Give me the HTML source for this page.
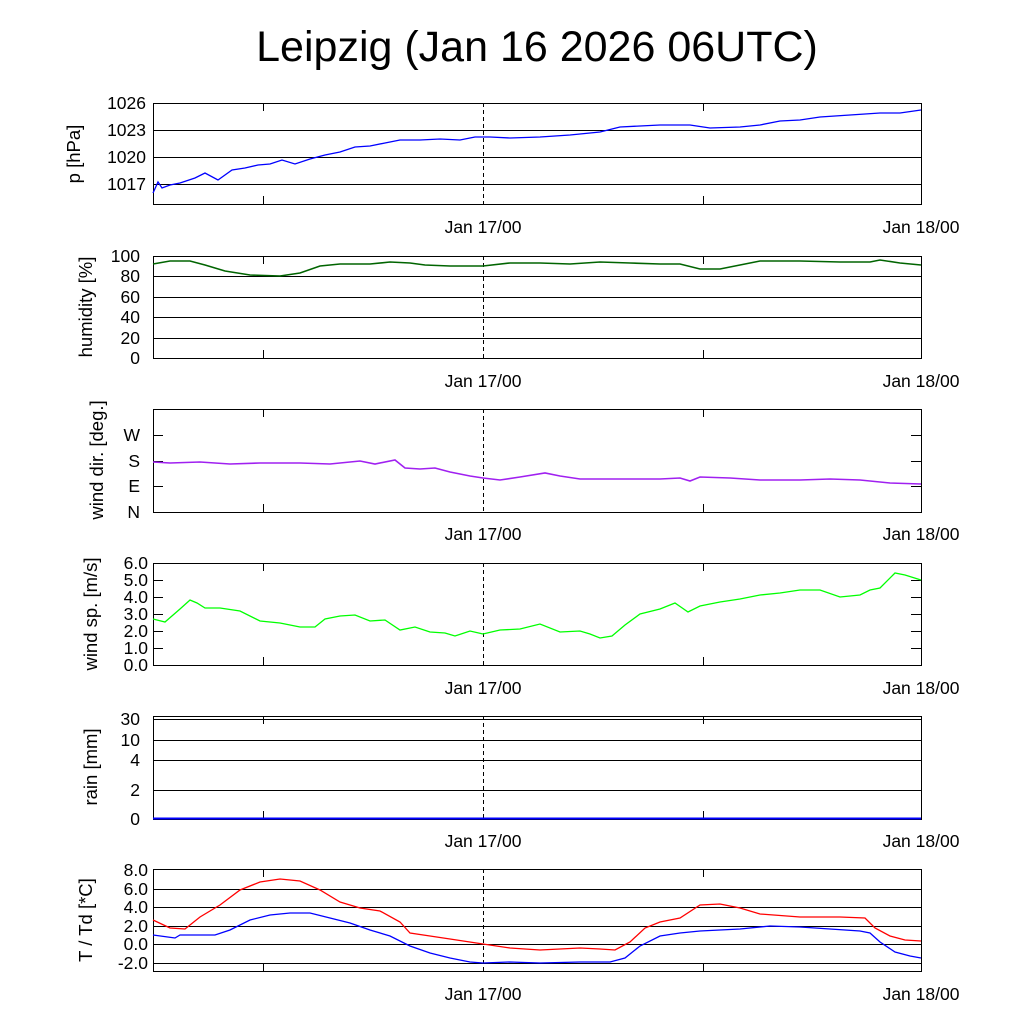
<!DOCTYPE html>
<html><head><meta charset="utf-8"><style>html,body{margin:0;padding:0;background:#fff}</style></head>
<body>
<svg width="1024" height="1024" xmlns="http://www.w3.org/2000/svg" font-family="Liberation Sans, sans-serif">
<rect width="1024" height="1024" fill="#fff"/>
<text x="537" y="61" font-size="43" text-anchor="middle">Leipzig (Jan 16 2026 06UTC)</text>
<g stroke="#000" stroke-width="1" fill="none">
<rect x="153.5" y="103.5" width="768" height="101"/>
<line x1="153" y1="130.5" x2="921" y2="130.5"/><line x1="153" y1="157.5" x2="921" y2="157.5"/><line x1="153" y1="184.5" x2="921" y2="184.5"/>
<rect x="153.5" y="256.5" width="768" height="102"/>
<line x1="153" y1="276.5" x2="921" y2="276.5"/><line x1="153" y1="297.5" x2="921" y2="297.5"/><line x1="153" y1="317.5" x2="921" y2="317.5"/><line x1="153" y1="338.5" x2="921" y2="338.5"/>
<rect x="153.5" y="409.5" width="768" height="103"/>
<line x1="153" y1="435.5" x2="163" y2="435.5"/><line x1="911" y1="435.5" x2="921" y2="435.5"/>
<line x1="153" y1="461.5" x2="163" y2="461.5"/><line x1="911" y1="461.5" x2="921" y2="461.5"/>
<line x1="153" y1="486.5" x2="163" y2="486.5"/><line x1="911" y1="486.5" x2="921" y2="486.5"/>
<rect x="153.5" y="563.5" width="768" height="102"/>
<line x1="153" y1="580.5" x2="163" y2="580.5"/><line x1="911" y1="580.5" x2="921" y2="580.5"/>
<line x1="153" y1="597.5" x2="163" y2="597.5"/><line x1="911" y1="597.5" x2="921" y2="597.5"/>
<line x1="153" y1="614.5" x2="163" y2="614.5"/><line x1="911" y1="614.5" x2="921" y2="614.5"/>
<line x1="153" y1="631.5" x2="163" y2="631.5"/><line x1="911" y1="631.5" x2="921" y2="631.5"/>
<line x1="153" y1="648.5" x2="163" y2="648.5"/><line x1="911" y1="648.5" x2="921" y2="648.5"/>
<rect x="153.5" y="716.5" width="768" height="103"/>
<line x1="153" y1="719.5" x2="921" y2="719.5"/><line x1="153" y1="740.5" x2="921" y2="740.5"/><line x1="153" y1="760.5" x2="921" y2="760.5"/><line x1="153" y1="790.5" x2="921" y2="790.5"/>
<rect x="153.5" y="869.5" width="768" height="102"/>
<line x1="153" y1="889.5" x2="921" y2="889.5"/><line x1="153" y1="907.5" x2="921" y2="907.5"/><line x1="153" y1="926.5" x2="921" y2="926.5"/><line x1="153" y1="944.5" x2="921" y2="944.5"/><line x1="153" y1="963.5" x2="921" y2="963.5"/>
<g>
<path d="M263.5 204v-8M703.5 204v-8M263.5 103v8M703.5 103v8"/>
<path d="M263.5 358v-8M703.5 358v-8M263.5 256v8M703.5 256v8"/>
<path d="M263.5 512v-8M703.5 512v-8M263.5 409v8M703.5 409v8"/>
<path d="M263.5 665v-8M703.5 665v-8M263.5 563v8M703.5 563v8"/>
<path d="M263.5 819v-8M703.5 819v-8M263.5 716v8M703.5 716v8"/>
<path d="M263.5 971v-8M703.5 971v-8M263.5 869v8M703.5 869v8"/>
</g>
<g stroke-dasharray="4,3">
<line x1="483.5" y1="103" x2="483.5" y2="204"/><line x1="483.5" y1="256" x2="483.5" y2="358"/><line x1="483.5" y1="409" x2="483.5" y2="512"/><line x1="483.5" y1="563" x2="483.5" y2="665"/><line x1="483.5" y1="716" x2="483.5" y2="819"/><line x1="483.5" y1="869" x2="483.5" y2="971"/>
</g>
</g>
<g font-size="17.5" text-anchor="middle">
<text x="483" y="233">Jan 17/00</text><text x="921" y="233">Jan 18/00</text>
<text x="483" y="387">Jan 17/00</text><text x="921" y="387">Jan 18/00</text>
<text x="483" y="540">Jan 17/00</text><text x="921" y="540">Jan 18/00</text>
<text x="483" y="694">Jan 17/00</text><text x="921" y="694">Jan 18/00</text>
<text x="483" y="847">Jan 17/00</text><text x="921" y="847">Jan 18/00</text>
<text x="483" y="1000">Jan 17/00</text><text x="921" y="1000">Jan 18/00</text>
</g>
<g font-size="17.5" text-anchor="end">
<text x="146" y="109">1026</text><text x="146" y="136">1023</text><text x="146" y="163">1020</text><text x="146" y="190">1017</text>
<text x="140" y="262">100</text><text x="140" y="282">80</text><text x="140" y="303">60</text><text x="140" y="323">40</text><text x="140" y="344">20</text><text x="140" y="364">0</text>
<text x="140" y="441">W</text><text x="140" y="467">S</text><text x="140" y="492">E</text><text x="140" y="518">N</text>
<text x="148" y="569">6.0</text><text x="148" y="586">5.0</text><text x="148" y="603">4.0</text><text x="148" y="620">3.0</text><text x="148" y="637">2.0</text><text x="148" y="654">1.0</text><text x="148" y="671">0.0</text>
<text x="140" y="725">30</text><text x="140" y="746">10</text><text x="140" y="766">4</text><text x="140" y="796">2</text><text x="140" y="825">0</text>
<text x="148" y="876">8.0</text><text x="148" y="895">6.0</text><text x="148" y="913">4.0</text><text x="148" y="932">2.0</text><text x="148" y="950">0.0</text><text x="148" y="969">-2.0</text>
</g>
<g font-size="18.5" text-anchor="middle">
<text transform="translate(80,154) rotate(-90)">p [hPa]</text>
<text transform="translate(92,307) rotate(-90)">humidity [%]</text>
<text transform="translate(103,460) rotate(-90)">wind dir. [deg.]</text>
<text transform="translate(97,614) rotate(-90)">wind sp. [m/s]</text>
<text transform="translate(97,767) rotate(-90)">rain [mm]</text>
<text transform="translate(92,920) rotate(-90)">T / Td [*C]</text>
</g>
<g fill="none" stroke-width="1.3">
<polyline stroke="#0000ff" points="153,193 158,182 162,188 170,185 180,183 195,178 205,173 218,180 232,170 245,168 258,165 270,164 282,160 295,164 310,159 325,155 340,152 355,147 370,146 385,143 400,140 420,140 440,139 460,140 475,137 490,137 510,138 540,137 570,135 600,132 620,127 640,126 660,125 690,125 710,128 740,127 760,125 780,121 800,120 820,117 850,115 880,113 900,113 921,110"/>
<polyline stroke="#006400" stroke-width="1.6" points="153,264 170,261 190,261 205,265 225,271 250,275 280,276 300,273 320,266 340,264 370,264 390,262 410,263 425,265 450,266 483,266 510,263 540,263 570,264 600,262 630,263 660,264 680,264 700,269 720,269 740,265 760,261 800,261 840,262 870,262 880,260 900,263 921,265"/>
<polyline stroke="#a020f0" stroke-width="1.6" points="153,462 170,463 200,462 230,464 260,463 300,463 330,464 360,461 375,464 395,460 405,468 420,469 435,468 450,472 470,476 483,478 500,480 520,477 545,473 560,476 580,479 620,479 660,479 680,478 690,481 700,477 730,478 760,480 800,480 830,479 860,480 890,483 921,484"/>
<polyline stroke="#00ff00" points="153,619 165,622 180,609 190,600 197,603 205,608 220,608 240,611 260,621 280,623 300,627 315,627 325,619 340,616 355,615 370,621 385,620 400,630 415,627 430,632 445,633 455,636 470,631 483,634 500,630 520,629 540,624 560,632 580,631 590,634 600,638 612,636 625,625 640,614 660,609 675,603 688,612 700,606 720,602 740,599 760,595 780,593 800,590 820,590 840,597 860,595 870,590 880,588 895,573 905,575 921,580"/>
<line x1="153" y1="818.5" x2="921" y2="818.5" stroke="#0000ff" stroke-width="2"/>
<polyline stroke="#ff0000" points="153,920 170,928 185,929 200,917 220,905 240,890 260,882 280,879 300,881 320,890 340,902 360,908 380,911 400,922 410,933 430,936 450,939 483,944 510,948 540,950 580,948 600,949 615,950 630,942 645,928 660,922 680,918 700,905 720,904 740,908 760,914 800,917 840,917 865,918 875,928 890,936 905,940 921,941"/>
<polyline stroke="#0000ff" points="153,935 175,938 180,935 200,935 215,935 230,930 250,920 270,915 290,913 310,913 330,918 350,923 370,930 390,936 410,946 430,953 450,958 470,962 483,963 510,962 540,963 580,962 610,962 625,958 640,946 660,936 680,933 700,931 740,929 770,926 800,927 830,929 860,931 870,933 880,942 895,952 910,956 921,958"/>
</g>
</svg>
</body></html>
